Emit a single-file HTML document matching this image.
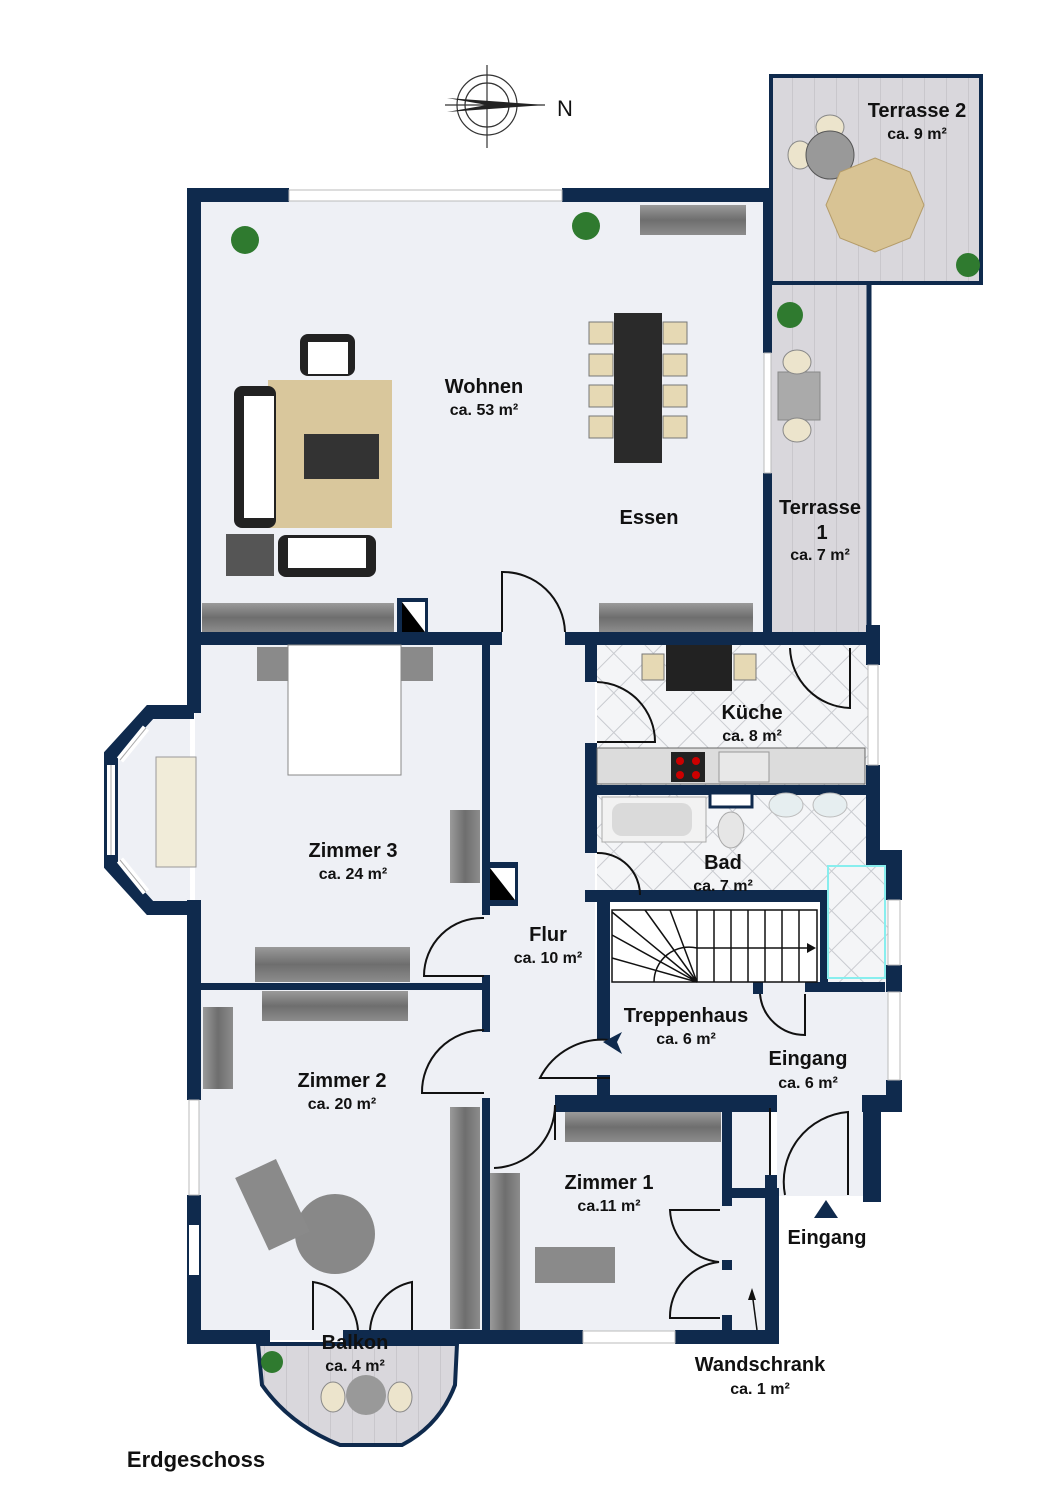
<!DOCTYPE html>
<html><head><meta charset="utf-8"><style>
html,body{margin:0;padding:0;background:#fff;}
svg{display:block;}
text{font-family:"Liberation Sans",sans-serif;font-weight:bold;fill:#111;text-anchor:middle;}
.n{font-size:20px;}
.a{font-size:16px;}
</style></head><body>
<svg width="1060" height="1500" viewBox="0 0 1060 1500" xmlns="http://www.w3.org/2000/svg">
<defs>
<linearGradient id="wd" x1="0" y1="0" x2="0" y2="1"><stop offset="0" stop-color="#9a9a9a"/><stop offset=".5" stop-color="#6e6e6e"/><stop offset="1" stop-color="#8c8c8c"/></linearGradient>
<linearGradient id="wdv" x1="0" y1="0" x2="1" y2="0"><stop offset="0" stop-color="#9a9a9a"/><stop offset=".5" stop-color="#6e6e6e"/><stop offset="1" stop-color="#8c8c8c"/></linearGradient>
<pattern id="pl" width="22" height="40" patternUnits="userSpaceOnUse"><rect width="22" height="40" fill="#d9d7dc"/><line x1="0" y1="0" x2="0" y2="40" stroke="#b9b7bc" stroke-width="1"/></pattern>
<pattern id="tile" width="28" height="28" patternUnits="userSpaceOnUse" patternTransform="rotate(45)"><rect width="28" height="28" fill="#f4f5f7"/><rect width="28" height="28" fill="none" stroke="#c9cbd0" stroke-width="1"/></pattern>
</defs>

<!-- compass -->
<g stroke="#333" fill="none" stroke-width="1.2">
<circle cx="487" cy="105" r="30"/><circle cx="487" cy="105" r="22"/>
<line x1="487" y1="65" x2="487" y2="148"/><line x1="445" y1="105" x2="545" y2="105"/>
</g>
<path d="M447,98 L545,105 L447,112 L487,105Z" fill="#222"/>
<text x="565" y="116" style="font-size:22px;font-weight:normal">N</text>

<!-- floors -->
<rect x="195" y="195" width="572" height="445" fill="#eef0f5"/>
<rect x="195" y="640" width="400" height="700" fill="#eef0f5"/>
<rect x="590" y="980" width="300" height="120" fill="#eef0f5"/>
<rect x="485" y="1100" width="285" height="235" fill="#eef0f5"/>
<rect x="777" y="1100" width="88" height="96" fill="#eef0f5"/>
<polygon points="190,705 150,705 110,755 110,865 150,915 190,915" fill="#eef0f5"/>
<rect x="597" y="645" width="275" height="145" fill="url(#tile)"/>
<rect x="597" y="795" width="275" height="100" fill="url(#tile)"/>
<rect x="825" y="860" width="65" height="122" fill="url(#tile)"/>

<!-- terraces -->
<rect x="771" y="76" width="210" height="207" fill="url(#pl)" stroke="#0f2a4d" stroke-width="4"/>
<rect x="770" y="285" width="99" height="350" fill="url(#pl)"/>
<line x1="869" y1="283" x2="869" y2="635" stroke="#0f2a4d" stroke-width="5"/>
<path d="M258,1344 L262,1385 Q290,1425 340,1445 L402,1445 Q440,1425 455,1385 L457,1344Z" fill="url(#pl)" stroke="#0f2a4d" stroke-width="4"/>

<!-- bay walls -->
<g stroke="#0f2a4d" stroke-width="14" fill="none" stroke-linejoin="miter">
<path d="M194,712 L150,712 L111,755 L111,865 L150,908 L194,908"/>
</g>
<g stroke="#fff" stroke-width="8">
<line x1="120" y1="760" x2="146" y2="728"/><line x1="120" y1="860" x2="146" y2="892"/><line x1="111" y1="765" x2="111" y2="855"/>
</g>
<g stroke="#aaa" stroke-width="1">
<line x1="120" y1="760" x2="146" y2="728"/><line x1="120" y1="860" x2="146" y2="892"/><line x1="111" y1="765" x2="111" y2="855"/>
</g>

<g fill="#0f2a4d">
<!-- Wohnen walls -->
<rect x="187" y="188" width="102" height="14"/>
<rect x="562" y="188" width="208" height="14"/>
<rect x="187" y="188" width="14" height="525"/>
<rect x="763" y="188" width="9" height="165"/>
<rect x="763" y="473" width="9" height="170"/>
<rect x="187" y="632" width="315" height="13"/>
<rect x="565" y="632" width="315" height="13"/>
<rect x="397" y="598" width="31" height="40"/>
<rect x="187" y="900" width="14" height="200"/>
<rect x="187" y="1195" width="14" height="148"/>
<!-- Zimmer3/Flur -->
<rect x="482" y="645" width="8" height="270"/>
<rect x="485" y="862" width="33" height="44"/>
<rect x="201" y="983" width="284" height="7"/>
<rect x="482" y="975" width="8" height="57"/>
<rect x="482" y="1098" width="8" height="235"/>
<!-- Flur/kitchen -->
<rect x="585" y="645" width="12" height="37"/>
<rect x="585" y="743" width="12" height="110"/>
<rect x="597" y="785" width="272" height="10"/>
<rect x="585" y="890" width="240" height="12"/>
<rect x="597" y="890" width="13" height="150"/>
<rect x="597" y="1075" width="13" height="23"/>
<rect x="820" y="890" width="8" height="95"/>
<rect x="753" y="982" width="10" height="12"/><rect x="805" y="982" width="80" height="10"/>
<!-- right walls -->
<rect x="866" y="625" width="14" height="40"/>
<rect x="866" y="765" width="14" height="30"/>
<rect x="866" y="795" width="14" height="55"/>
<rect x="866" y="850" width="36" height="15"/>
<rect x="886" y="850" width="16" height="50"/>
<rect x="886" y="965" width="16" height="27"/>
<rect x="886" y="1080" width="16" height="32"/>
<!-- Zimmer1 top -->
<rect x="555" y="1095" width="222" height="17"/>
<rect x="862" y="1095" width="40" height="17"/>
<rect x="863" y="1095" width="18" height="107"/>
<rect x="722" y="1095" width="10" height="103"/>
<rect x="765" y="1095" width="12" height="13"/><rect x="765" y="1175" width="12" height="23"/>
<rect x="722" y="1188" width="55" height="10"/>
<rect x="765" y="1188" width="14" height="155"/>
<rect x="722" y="1260" width="10" height="10"/><rect x="722" y="1315" width="10" height="20"/>
<rect x="722" y="1198" width="10" height="8"/>
<!-- bottom -->
<rect x="187" y="1330" width="83" height="14"/>
<rect x="343" y="1330" width="240" height="14"/>
<rect x="675" y="1330" width="104" height="14"/>
</g>

<!-- windows -->
<g fill="#fff" stroke="#bbb" stroke-width="1">
<rect x="289" y="190" width="273" height="11"/>
<rect x="764" y="353" width="7" height="120"/>
<rect x="583" y="1331" width="92" height="12"/>
<rect x="189" y="1100" width="10" height="95"/>
<rect x="868" y="665" width="10" height="100"/>
<rect x="888" y="900" width="12" height="65"/>
<rect x="888" y="992" width="12" height="88"/>
</g>

<!-- doors -->
<g fill="none" stroke="#111" stroke-width="2">
<path d="M502,632 L502,572 A62,62 0 0 1 565,632"/>
<path d="M484,918 A58,58 0 0 0 424,976 L484,976"/>
<path d="M484,1030 A62,62 0 0 0 422,1093 L484,1093"/>
<path d="M597,682 A60,60 0 0 1 655,742 L597,742"/>
<path d="M597,853 A42,42 0 0 1 640,895"/>
<path d="M610,1040 A70,70 0 0 0 540,1078 L610,1078"/>
<path d="M555,1105 L555,1140 M555,1105 A63,63 0 0 1 494,1168"/>
<path d="M790,648 A62,62 0 0 0 850,708 L850,648"/>
<path d="M760,994 A45,45 0 0 0 805,1035 L805,994"/>
<path d="M785,1195 A70,70 0 0 1 848,1112 L848,1195"/>
<path d="M720,1210 L670,1210 A55,55 0 0 0 719,1262 A55,55 0 0 0 670,1318 L720,1318"/>
<path d="M313,1330 L313,1282 A53,53 0 0 1 358,1330"/>
<path d="M412,1330 L412,1282 A53,53 0 0 0 370,1330"/>
<line x1="770" y1="1108" x2="770" y2="1175"/>
</g>
<rect x="402" y="602" width="23" height="30" fill="#000"/>
<path d="M402,602 L425,632 L425,602 Z" fill="#fff"/>
<rect x="490" y="868" width="25" height="32" fill="#000"/>
<path d="M490,868 L515,900 L515,868Z" fill="#fff"/>

<!-- furniture: Wohnen -->
<g>
<rect x="300" y="334" width="55" height="42" rx="8" fill="#222"/><rect x="308" y="342" width="40" height="32" fill="#fff"/>
<rect x="268" y="380" width="124" height="148" fill="#d9c79c"/>
<rect x="304" y="434" width="75" height="45" fill="#333"/>
<rect x="234" y="386" width="42" height="142" rx="8" fill="#222"/><rect x="244" y="396" width="30" height="122" fill="#fff"/>
<rect x="226" y="534" width="48" height="42" fill="#555"/>
<rect x="278" y="535" width="98" height="42" rx="8" fill="#222"/><rect x="288" y="538" width="78" height="30" fill="#fff"/>
<rect x="202" y="603" width="192" height="29" fill="url(#wd)"/>
<rect x="599" y="603" width="154" height="29" fill="url(#wd)"/>
<rect x="640" y="205" width="106" height="30" fill="url(#wd)"/>
<rect x="614" y="313" width="48" height="150" fill="#2a2a2a"/>
<g fill="#e6d9b4" stroke="#777">
<rect x="589" y="322" width="24" height="22"/><rect x="589" y="354" width="24" height="22"/><rect x="589" y="385" width="24" height="22"/><rect x="589" y="416" width="24" height="22"/>
<rect x="663" y="322" width="24" height="22"/><rect x="663" y="354" width="24" height="22"/><rect x="663" y="385" width="24" height="22"/><rect x="663" y="416" width="24" height="22"/>
</g>
<circle cx="245" cy="240" r="14" fill="#2f7a2f"/><circle cx="586" cy="226" r="14" fill="#2f7a2f"/>
<circle cx="790" cy="315" r="13" fill="#2f7a2f"/><circle cx="968" cy="265" r="12" fill="#2f7a2f"/><circle cx="272" cy="1362" r="11" fill="#2f7a2f"/>
<!-- terrace 2 -->
<ellipse cx="830" cy="127" rx="14" ry="12" fill="#ece4cc" stroke="#888"/>
<ellipse cx="800" cy="155" rx="12" ry="14" fill="#ece4cc" stroke="#888"/>
<circle cx="830" cy="155" r="24" fill="#999" stroke="#555"/>
<polygon points="875,158 910,172 924,205 910,238 875,252 840,238 826,205 840,172" fill="#d8c394" stroke="#b49c6a"/>
<!-- terrace 1 -->
<rect x="778" y="372" width="42" height="48" fill="#aaa" stroke="#888"/>
<ellipse cx="797" cy="362" rx="14" ry="12" fill="#ece4cc" stroke="#888"/><ellipse cx="797" cy="430" rx="14" ry="12" fill="#ece4cc" stroke="#888"/>
<!-- kitchen -->
<rect x="666" y="645" width="66" height="46" fill="#222"/>
<rect x="642" y="654" width="22" height="26" fill="#e6d9b4" stroke="#777"/><rect x="734" y="654" width="22" height="26" fill="#e6d9b4" stroke="#777"/>
<rect x="597" y="748" width="268" height="36" fill="#dcdcdc" stroke="#666"/>
<rect x="671" y="752" width="34" height="30" fill="#222"/>
<circle cx="680" cy="761" r="4" fill="#c00"/><circle cx="696" cy="761" r="4" fill="#c00"/><circle cx="680" cy="775" r="4" fill="#c00"/><circle cx="696" cy="775" r="4" fill="#c00"/>
<rect x="719" y="752" width="50" height="30" fill="#e8e8e8" stroke="#999"/>
<!-- bath -->
<rect x="602" y="797" width="104" height="45" fill="#f2f2f2" stroke="#aaa"/>
<rect x="612" y="803" width="80" height="33" rx="10" fill="#dadada"/>
<rect x="710" y="793" width="42" height="14" fill="#fff" stroke="#0f2a4d" stroke-width="3"/>
<ellipse cx="731" cy="830" rx="13" ry="18" fill="#e6e6e6" stroke="#aaa"/>
<ellipse cx="786" cy="805" rx="17" ry="12" fill="#e6eef0" stroke="#bbb"/><ellipse cx="830" cy="805" rx="17" ry="12" fill="#e6eef0" stroke="#bbb"/>
<rect x="828" y="866" width="57" height="112" fill="none" stroke="#8ee" stroke-width="2"/>
</g>
<!-- stairs -->
<g stroke="#111" stroke-width="1.5" fill="none">
<rect x="612" y="910" width="205" height="72" fill="#fff"/>
<line x1="697" y1="910" x2="697" y2="982"/><line x1="714" y1="910" x2="714" y2="982"/><line x1="731" y1="910" x2="731" y2="982"/><line x1="748" y1="910" x2="748" y2="982"/><line x1="765" y1="910" x2="765" y2="982"/><line x1="782" y1="910" x2="782" y2="982"/><line x1="799" y1="910" x2="799" y2="982"/>
<path d="M612,912 L697,982 M645,910 L697,982 M670,910 L697,982 M612,935 L697,982 M612,958 L697,982"/>
<path d="M654,982 A35,35 0 0 1 697,948 L812,948"/>
</g>
<path d="M807,943 L816,948 L807,953Z" fill="#111"/>
<path d="M603,1042 L622,1032 L617,1042 L622,1054Z" fill="#0f2a4d"/>
<path d="M826,1200 L838,1218 L814,1218Z" fill="#0f2a4d"/>
<!-- Zimmer 3 furniture -->
<rect x="257" y="647" width="176" height="34" fill="#8a8a8a"/>
<rect x="288" y="645" width="113" height="130" fill="#fff" stroke="#888"/>
<rect x="156" y="757" width="40" height="110" fill="#f1ecd9" stroke="#999"/>
<rect x="450" y="810" width="30" height="73" fill="url(#wdv)"/>
<rect x="255" y="947" width="155" height="35" fill="url(#wd)"/>
<rect x="262" y="991" width="146" height="30" fill="url(#wd)"/>
<!-- Zimmer 2 -->
<rect x="203" y="1007" width="30" height="82" fill="url(#wdv)"/>
<rect x="450" y="1107" width="30" height="222" fill="url(#wdv)"/>
<rect x="490" y="1173" width="30" height="157" fill="url(#wdv)"/>
<rect x="565" y="1112" width="156" height="30" fill="url(#wd)"/>
<circle cx="335" cy="1234" r="40" fill="#888"/>
<rect x="250" y="1165" width="45" height="80" fill="#8a8a8a" transform="rotate(-25 272 1205)"/>
<rect x="535" y="1247" width="80" height="36" fill="#8a8a8a"/>
<rect x="189" y="1225" width="10" height="50" fill="#fff"/>
<circle cx="366" cy="1395" r="20" fill="#999"/>
<ellipse cx="333" cy="1397" rx="12" ry="15" fill="#ece4cc" stroke="#888"/><ellipse cx="400" cy="1397" rx="12" ry="15" fill="#ece4cc" stroke="#888"/>
<line x1="757" y1="1330" x2="752" y2="1292" stroke="#111" stroke-width="1.5"/><path d="M752,1288 L748,1300 L756,1300Z" fill="#111"/>

<!-- labels -->
<text class="n" x="484" y="393">Wohnen</text><text class="a" x="484" y="415">ca. 53 m²</text>
<text class="n" x="649" y="524">Essen</text>
<text class="n" x="917" y="117">Terrasse 2</text><text class="a" x="917" y="139">ca. 9 m²</text>
<text class="n" x="820" y="514">Terrasse</text><text class="n" x="822" y="539">1</text><text class="a" x="820" y="560">ca. 7 m²</text>
<text class="n" x="752" y="719">Küche</text><text class="a" x="752" y="741">ca. 8 m²</text>
<text class="n" x="723" y="869">Bad</text><text class="a" x="723" y="891">ca. 7 m²</text>
<text class="n" x="353" y="857">Zimmer 3</text><text class="a" x="353" y="879">ca. 24 m²</text>
<text class="n" x="548" y="941">Flur</text><text class="a" x="548" y="963">ca. 10 m²</text>
<text class="n" x="686" y="1022">Treppenhaus</text><text class="a" x="686" y="1044">ca. 6 m²</text>
<text class="n" x="808" y="1065">Eingang</text><text class="a" x="808" y="1088">ca. 6 m²</text>
<text class="n" x="342" y="1087">Zimmer 2</text><text class="a" x="342" y="1109">ca. 20 m²</text>
<text class="n" x="609" y="1189">Zimmer 1</text><text class="a" x="609" y="1211">ca.11 m²</text>
<text class="n" x="827" y="1244">Eingang</text>
<text class="n" x="355" y="1349">Balkon</text><text class="a" x="355" y="1371">ca. 4 m²</text>
<text class="n" x="760" y="1371">Wandschrank</text><text class="a" x="760" y="1394">ca. 1 m²</text>
<text x="196" y="1467" style="font-size:22px">Erdgeschoss</text>
</svg>
</body></html>
